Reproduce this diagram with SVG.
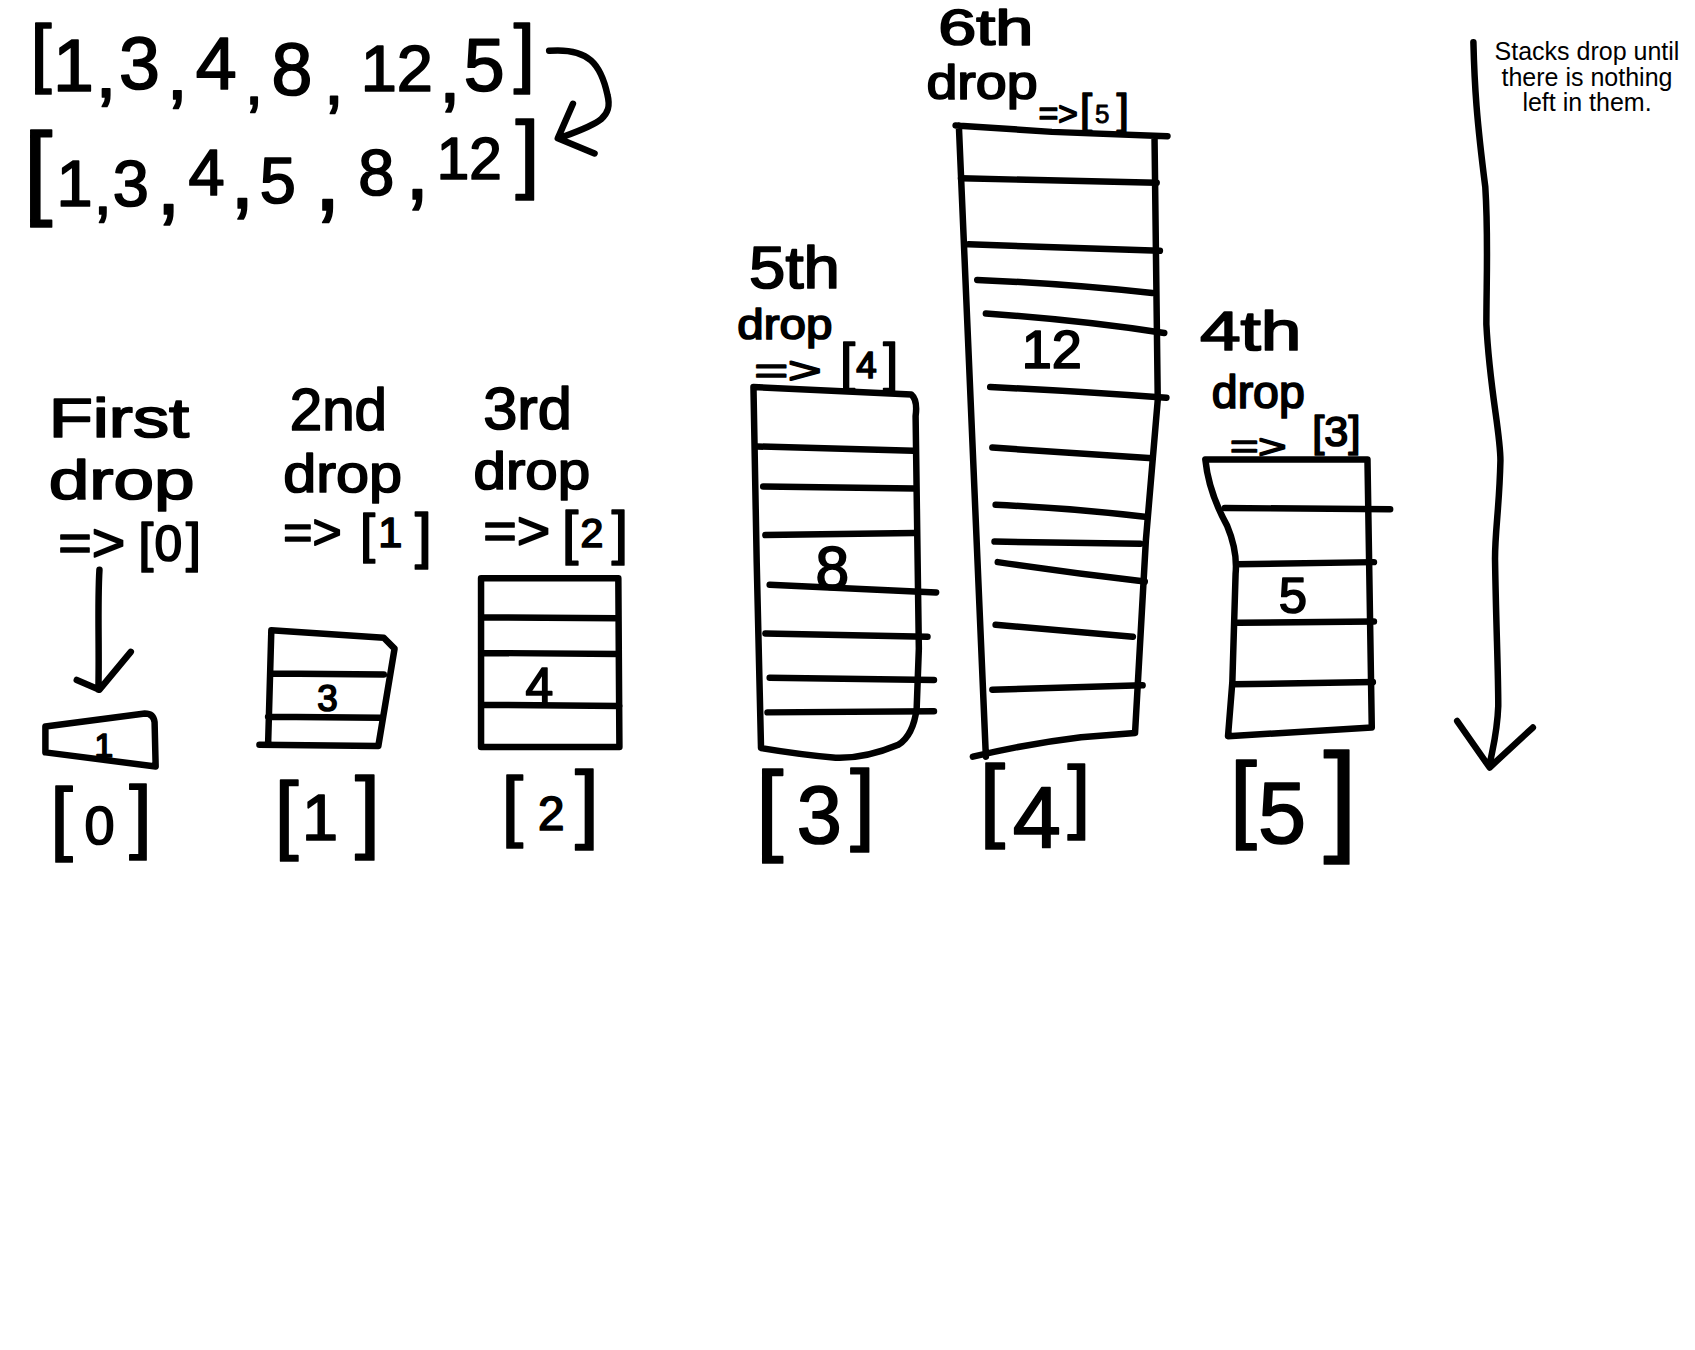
<svg xmlns="http://www.w3.org/2000/svg" width="1695" height="1350" viewBox="0 0 1695 1350">
<style>
.ln{fill:none;stroke:#000;stroke-width:6;stroke-linecap:round;stroke-linejoin:round}
.hw{font-family:"Liberation Sans",Arial,sans-serif;fill:#000;stroke:#000;stroke-width:1.6;stroke-linejoin:round}
.hm{text-anchor:middle}
.pt{font-family:"Liberation Sans",Arial,sans-serif;font-size:25px;fill:#000;text-anchor:middle}
</style>
<rect width="1695" height="1350" fill="#fff"/>
<g transform="scale(1.081)">
<g id="list-input">
<text class="hw hm" font-size="68"><tspan x="38" y="72" font-size="70">[</tspan><tspan x="68" y="84">1</tspan><tspan x="98" y="90" font-size="70">,</tspan><tspan x="129" y="82">3</tspan><tspan x="164" y="92" font-size="70">,</tspan><tspan x="200" y="82">4</tspan><tspan x="235" y="96" font-size="60">,</tspan><tspan x="270" y="88">8</tspan><tspan x="309" y="96" font-size="66">,</tspan><tspan x="367" y="84" font-size="60">12</tspan><tspan x="416" y="94" font-size="72">,</tspan><tspan x="448" y="84">5</tspan><tspan x="485" y="72" font-size="70">]</tspan></text>
</g>
<g id="list-sorted">
<text class="hw hm" font-size="60"><tspan x="35" y="190" font-size="96">[</tspan><tspan x="69" y="191">1</tspan><tspan x="95" y="198">,</tspan><tspan x="121" y="191">3</tspan><tspan x="156" y="198" font-size="80">,</tspan><tspan x="191" y="180">4</tspan><tspan x="224" y="192" font-size="80">,</tspan><tspan x="257" y="188">5</tspan><tspan x="303" y="194" font-size="90">,</tspan><tspan x="348" y="180">8</tspan><tspan x="386" y="184" font-size="80">,</tspan><tspan x="434" y="166" font-size="54">12</tspan><tspan x="488" y="168" font-size="80">]</tspan></text>
</g>
<g id="col0">
<text class="hw" x="45" y="404" font-size="52" textLength="130" lengthAdjust="spacingAndGlyphs">First</text>
<text class="hw" x="45" y="462" font-size="52" textLength="135" lengthAdjust="spacingAndGlyphs">drop</text>
<text class="hw" font-size="50"><tspan x="54" y="519" textLength="62" lengthAdjust="spacingAndGlyphs">=&gt;</tspan><tspan x="128" y="519">[</tspan><tspan x="143" y="519" font-size="46">0</tspan><tspan x="172" y="519">]</tspan></text>
<path class="ln" d="M42,672 L134,660 Q142,660 143,668 L144,709 L42,696 Z"/>
<text class="hw hm" x="96" y="700" font-size="31" stroke-width="1">1</text>
<text class="hw hm" font-size="75"><tspan x="57" y="782">[</tspan><tspan x="92" y="781" font-size="50">0</tspan><tspan x="130" y="780">]</tspan></text>
</g>
<g id="col1">
<text class="hw" x="268" y="398" font-size="55" textLength="90" lengthAdjust="spacingAndGlyphs">2nd</text>
<text class="hw" x="262" y="455" font-size="50" textLength="110" lengthAdjust="spacingAndGlyphs">drop</text>
<text class="hw" font-size="50"><tspan x="262" y="508" font-size="46" textLength="54" lengthAdjust="spacingAndGlyphs">=&gt;</tspan><tspan x="333" y="511">[</tspan><tspan x="350" y="506" font-size="40">1</tspan><tspan x="384" y="514" font-size="56">]</tspan></text>
<path class="ln" d="M251,583 L355,590 L365,600 L350,690 L240,689 M251,583 L248,689 M250,623 L355,624 M248,663 L352,664"/>
<text class="hw hm" x="303" y="658" font-size="34" stroke-width="1">3</text>
<text class="hw hm" font-size="80"><tspan x="265" y="780">[</tspan><tspan x="296" y="777" font-size="60">1</tspan><tspan x="340" y="778" font-size="84">]</tspan></text>
</g>
<g id="col2">
<text class="hw" x="447" y="397" font-size="55" textLength="82" lengthAdjust="spacingAndGlyphs">3rd</text>
<text class="hw" x="438" y="452" font-size="48" textLength="108" lengthAdjust="spacingAndGlyphs">drop</text>
<text class="hw" font-size="54"><tspan x="447" y="508" font-size="50" textLength="62" lengthAdjust="spacingAndGlyphs">=&gt;</tspan><tspan x="520" y="512">[</tspan><tspan x="537" y="506" font-size="38">2</tspan><tspan x="566" y="512">]</tspan></text>
<path class="ln" d="M445,535 L572,535 L573,691 L445,691 Z M446,571 L572,572 M446,604 L572,605 M446,652 L573,653"/>
<text class="hw hm" x="499" y="650" font-size="46" stroke-width="1.2">4</text>
<text class="hw hm" font-size="72"><tspan x="474" y="770">[</tspan><tspan x="510" y="768" font-size="44">2</tspan><tspan x="543" y="770" font-size="80">]</tspan></text>
</g>
<g id="col3">
<text class="hw" x="693" y="266" font-size="55" textLength="84" lengthAdjust="spacingAndGlyphs">5th</text>
<text class="hw" x="682" y="314" font-size="40" textLength="88" lengthAdjust="spacingAndGlyphs">drop</text>
<text class="hw" font-size="50"><tspan x="698" y="354" font-size="34" textLength="62" lengthAdjust="spacingAndGlyphs">=&gt;</tspan><tspan x="777" y="352">[</tspan><tspan x="792" y="350" font-size="34">4</tspan><tspan x="817" y="352">]</tspan></text>
<path class="ln" d="M697,358 L843,365 Q849,370 847,385 L850,600 L848,655 Q845,680 831,689 Q800,702 773,701 Q740,698 704,692 L700,520 Z"/>
<path class="ln" d="M700,413 L845,417 M706,450 L846,452 M708,495 L846,493 M712,541 L866,548 M708,586 L858,589 M712,627 L864,629 M710,659 L864,658"/>
<text class="hw hm" x="770" y="545" font-size="56">8</text>
<text class="hw hm" font-size="92"><tspan x="712" y="779">[</tspan><tspan x="758" y="780" font-size="75">3</tspan><tspan x="798" y="771" font-size="82">]</tspan></text>
</g>
<g id="col4">
<text class="hw" x="868" y="42" font-size="46" textLength="88" lengthAdjust="spacingAndGlyphs">6th</text>
<text class="hw" x="857" y="92" font-size="44" textLength="103" lengthAdjust="spacingAndGlyphs">drop</text>
<text class="hw" font-size="40"><tspan x="961" y="116" font-size="30" textLength="36" lengthAdjust="spacingAndGlyphs">=&gt;</tspan><tspan x="999" y="115">[</tspan><tspan x="1013" y="114" font-size="24" stroke-width="0.8">5</tspan><tspan x="1033" y="115">]</tspan></text>
<path class="ln" d="M884,116 L973,122 L1080,126 M887,116 L912,700 M1068,126 L1071,370 L1060,500 L1050,678 M900,700 Q950,688 1000,682 L1050,678"/>
<path class="ln" d="M889,165 L1070,169 M896,226 L1073,232 M904,259 Q980,262 1066,271 M912,290 Q1000,296 1077,308 M916,358 Q1000,362 1079,368 M918,414 L1066,424 M921,467 Q990,470 1059,478 M920,501 L1055,503 M923,520 Q990,530 1059,538 M921,578 L1048,589 M918,638 L1057,634"/>
<text class="hw hm" x="973" y="340" font-size="50">12</text>
<text class="hw hm" font-size="85"><tspan x="918" y="768">[</tspan><tspan x="959" y="784" font-size="80">4</tspan><tspan x="998" y="761" font-size="76">]</tspan></text>
</g>
<g id="col5">
<text class="hw" x="1110" y="324" font-size="52" textLength="94" lengthAdjust="spacingAndGlyphs">4th</text>
<text class="hw" x="1121" y="377" font-size="42" textLength="86" lengthAdjust="spacingAndGlyphs">drop</text>
<text class="hw" x="1138" y="424" font-size="30" textLength="52" lengthAdjust="spacingAndGlyphs">=&gt;</text>
<text class="hw" x="1214" y="413" font-size="40">[3]</text>
<path class="ln" d="M1136,681 L1140,631 L1143,531 Q1145,510 1135,486 Q1118,455 1115,425 L1265,425 L1269,673 Z"/>
<path class="ln" d="M1133,470 L1286,471 M1144,522 L1271,520 M1145,576 L1271,575 M1140,633 L1270,631"/>
<text class="hw hm" x="1196" y="567" font-size="47">5</text>
<text class="hw hm" font-size="90"><tspan x="1150" y="768">[</tspan><tspan x="1186" y="780" font-size="80">5</tspan><tspan x="1240" y="776" font-size="113">]</tspan></text>
</g>
<g id="connectors">
<path class="ln" d="M508,47 C545,44 556,60 562,88 C567,108 555,114 522,126 M530,96 L516,128 L550,142"/>
<path class="ln" d="M92,527 C90,560 92,600 91,638 M71,629 L92,638 L121,603"/>
<path class="ln" d="M1363,39 C1364,80 1366,110 1374,173 C1377,220 1375,260 1375,300 C1378,360 1388,400 1388,426 C1387,470 1383,490 1383,517 C1384,580 1386,620 1386,653 C1385,680 1380,695 1378,708 M1348,667 L1378,710 L1418,673"/>
</g>
</g>
<g id="note">
<text class="pt"><tspan x="1587" y="60">Stacks drop until</tspan><tspan x="1587" y="85.7">there is nothing</tspan><tspan x="1587" y="111.4">left in them.</tspan></text>
</g>
</svg>
